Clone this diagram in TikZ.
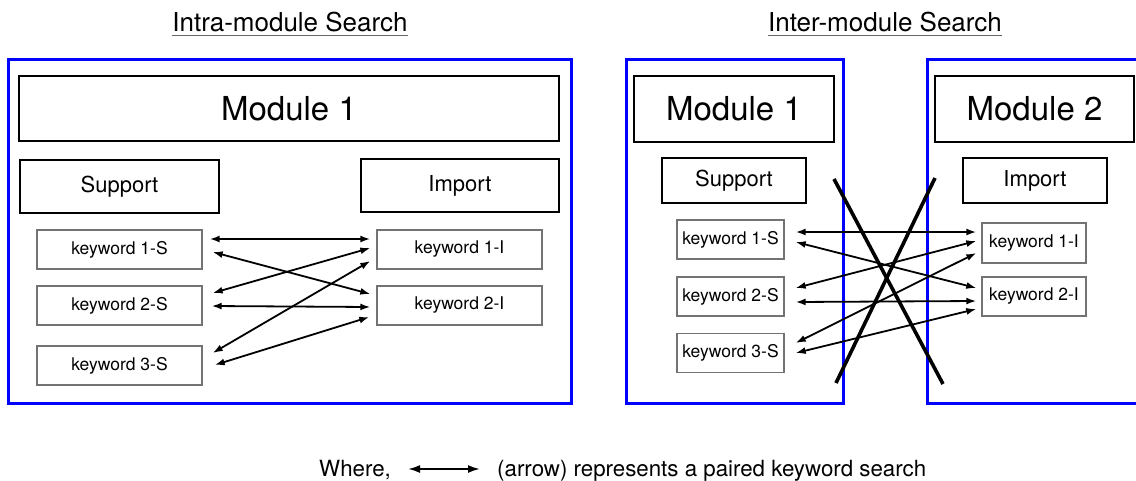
\documentclass[tikz,border=0pt]{standalone}
\usepackage{fontspec}
\setmainfont{TeX Gyre Heros}
\usetikzlibrary{arrows.meta,calc}
\begin{document}
\begin{tikzpicture}[x=1pt,y=-1pt,
  frame/.style={draw=blue,line width=3pt},
  modbox/.style={draw=black,line width=2.4pt,inner sep=0pt,font=\fontsize{33}{37}\selectfont},
  rolebox/.style={draw=black,line width=1.9pt,inner sep=0pt,font=\fontsize{22}{26}\selectfont},
  kwbox/.style={draw=black!55,line width=1.4pt,inner sep=0pt,font=\fontsize{17.5}{21}\selectfont},
  pair/.style={line width=1.8pt,{Latex[length=10pt,width=7pt]}-{Latex[length=10pt,width=7pt]}},
  cross/.style={line width=3.6pt},
  heading/.style={inner sep=0pt,font=\fontsize{26}{30}\selectfont},
  rule/.style={draw=black!60,line width=1.3pt},
  legend/.style={inner sep=0pt,font=\fontsize{22.3}{26}\selectfont}]

\useasboundingbox (0,0) rectangle (1136,480);

% ---------- intra-module search ----------
\node[heading] (tA) at (290,22) {Intra-module Search};
\draw[rule] ($(tA.base west)+(0,4)$) -- ($(tA.base east)+(0,4)$);

\draw[frame] (8,59) rectangle (571,403);
\node[modbox,minimum width=540pt,minimum height=65pt] (mA) at (289,108.5) {Module 1};
\node[rolebox,minimum width=199pt,minimum height=53pt] (sA) at (119.5,186.5) {Support};
\node[rolebox,minimum width=198pt,minimum height=53pt] (iA) at (460,185.5) {Import};

\node[kwbox,minimum width=165pt,minimum height=39pt] (s1A) at (119.5,249.5) {keyword 1-S};
\node[kwbox,minimum width=165pt,minimum height=39pt] (s2A) at (119.5,305.5) {keyword 2-S};
\node[kwbox,minimum width=165pt,minimum height=39pt] (s3A) at (119.5,365.5) {keyword 3-S};
\node[kwbox,minimum width=165pt,minimum height=39pt] (i1A) at (459.5,249.5) {keyword 1-I};
\node[kwbox,minimum width=165pt,minimum height=39pt] (i2A) at (459.5,305.5) {keyword 2-I};

\draw[pair] ([shift={(7,-10.5)}]s1A.east) -- ([shift={(-6,-10.5)}]i1A.west);
\draw[pair] ([shift={(10,2.5)}]s1A.east) -- ([shift={(-6,-11.5)}]i2A.west);
\draw[pair] ([shift={(10,-12.5)}]s2A.east) -- ([shift={(-6,-1.5)}]i1A.west);
\draw[pair] ([shift={(9,0.5)}]s2A.east) -- ([shift={(-6,1.5)}]i2A.west);
\draw[pair] ([shift={(10,-12.5)}]s3A.east) -- ([shift={(-6,11.5)}]i1A.west);
\draw[pair] ([shift={(12,-0.5)}]s3A.east) -- ([shift={(-7,11.5)}]i2A.west);

% ---------- inter-module search ----------
\node[heading] (tB) at (885,22) {Inter-module Search};
\draw[rule] ($(tB.base west)+(0,4)$) -- ($(tB.base east)+(0,4)$);

\draw[frame] (626,59) rectangle (843,403);
\draw[frame] (927,59) rectangle (1160,403);

\node[modbox,minimum width=200pt,minimum height=66pt] (m1B) at (734,109) {Module 1};
\node[modbox,minimum width=199pt,minimum height=66pt] (m2B) at (1034.5,109) {Module 2};
\node[rolebox,minimum width=144pt,minimum height=45pt] (sB) at (734,180.5) {Support};
\node[rolebox,minimum width=144pt,minimum height=45pt] (iB) at (1035,180.5) {Import};

\node[kwbox,minimum width=107pt,minimum height=39pt] (s1B) at (730.5,239.5) {keyword 1-S};
\node[kwbox,minimum width=107pt,minimum height=39pt] (s2B) at (730.5,296.5) {keyword 2-S};
\node[kwbox,minimum width=107pt,minimum height=39pt] (s3B) at (730.5,353) {keyword 3-S};
\node[kwbox,minimum width=104pt,minimum height=40pt] (i1B) at (1034,243) {keyword 1-I};
\node[kwbox,minimum width=104pt,minimum height=39pt] (i2B) at (1034,296.5) {keyword 2-I};

\draw[pair] ([shift={(11,-7.5)}]s1B.east) -- ([shift={(-5,-11)}]i1B.west);
\draw[pair] ([shift={(11,2.5)}]s1B.east) -- ([shift={(-5,-8.5)}]i2B.west);
\draw[pair] ([shift={(11,-8.5)}]s2B.east) -- ([shift={(-5,-2)}]i1B.west);
\draw[pair] ([shift={(11,5.5)}]s2B.east) -- ([shift={(-5,4.5)}]i2B.west);
\draw[pair] ([shift={(11,-10)}]s3B.east) -- ([shift={(-5,10)}]i1B.west);
\draw[pair] ([shift={(11,0)}]s3B.east) -- ([shift={(-5,12.5)}]i2B.west);

% the two crossing strokes between the modules
\coordinate (xa1) at (834,179);
\coordinate (xa2) at (943,384);
\coordinate (xb1) at (935,178);
\coordinate (xb2) at (836,383);
\draw[cross] (xa1) -- (xa2);
\draw[cross] (xb1) -- (xb2);

% ---------- legend ----------
\node[legend,anchor=base west] (lw) at (319,476) {Where,};
\node[legend,anchor=base west] (lt) at (497,476) {(arrow) represents a paired keyword search};
\coordinate (la) at (408,469);
\coordinate (lb) at (480,469);
\draw[line width=2pt,{Latex[length=12pt,width=8pt]}-{Latex[length=12pt,width=8pt]}] (la) -- (lb);
\end{tikzpicture}
\end{document}
